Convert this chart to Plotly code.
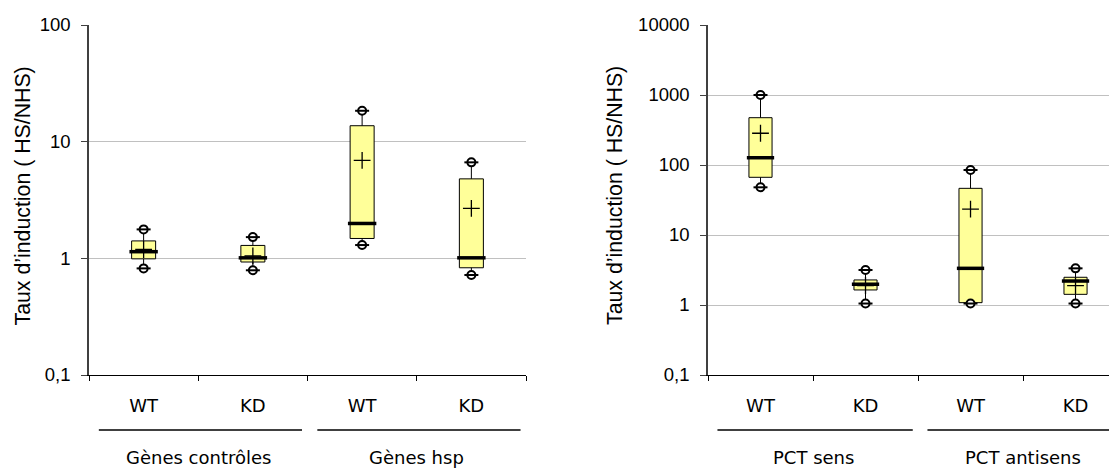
import plotly.graph_objects as go

# page body adds an 8px margin; lay out in reference pixel space minus that offset
OFF = 8
FW, FH = 1117 - OFF, 468 - OFF


def px(x):
    return (x - OFF) / FW


def py(y):
    return 1 - (y - OFF) / FH


# ---------------- data ----------------
categories = ["WT", "KD", "WT", "KD"]
left_groups = ["Gènes contrôles", "Gènes hsp"]
right_groups = ["PCT sens", "PCT antisens"]

left_min = [0.82, 0.79, 1.30, 0.72]
left_q1 = [0.99, 0.93, 1.48, 0.83]
left_median = [1.14, 1.01, 1.99, 1.01]
left_q3 = [1.41, 1.29, 13.7, 4.80]
left_max = [1.77, 1.52, 18.4, 6.65]
left_mean = [1.19, 1.05, 6.92, 2.68]

right_min = [48, 1.05, 1.05, 1.05]
right_q1 = [66.7, 1.64, 1.08, 1.42]
right_median = [127, 1.98, 3.34, 2.20]
right_q3 = [474, 2.28, 46.4, 2.49]
right_max = [1000, 3.16, 84.8, 3.34]
right_mean = [284, 1.90, 23.5, 1.89]

left_ticks = [0.1, 1, 10, 100]
left_ticktext = ["0,1", "1", "10", "100"]
right_ticks = [0.1, 1, 10, 100, 1000, 10000]
right_ticktext = ["0,1", "1", "10", "100", "1000", "10000"]

y_title = "Taux d’induction ( HS/NHS)"

# ---------------- styling ----------------
FILL = "#FFFF99"
GRID = "#C0C0C0"
AX_FONT = dict(family="Liberation Sans, Arial, sans-serif", size=18.5, color="black")
CAT_FONT = dict(family="DejaVu Sans, Verdana, sans-serif", size=18, color="black")
BOX_W = 0.22
MED_HALF = 0.13

fig = go.Figure()


def add_panel(xa, ya, mins, q1, med, q3, maxs, means):
    pos = list(range(len(categories)))
    fig.add_trace(go.Box(
        x=pos, q1=q1, median=med, q3=q3, lowerfence=mins, upperfence=maxs,
        width=BOX_W, fillcolor=FILL, line=dict(color="black", width=1),
        whiskerwidth=0, boxpoints=False, showlegend=False, hoverinfo="skip",
        xaxis=xa, yaxis=ya))
    mx, my = [], []
    for p, m in zip(pos, med):
        mx += [p - MED_HALF, p + MED_HALF, None]
        my += [m, m, None]
    fig.add_trace(go.Scatter(x=mx, y=my, mode="lines",
                             line=dict(color="black", width=3.5),
                             showlegend=False, hoverinfo="skip",
                             xaxis=xa, yaxis=ya))
    fig.add_trace(go.Scatter(x=pos, y=means, mode="markers",
                             marker=dict(symbol="cross-thin-open", size=12,
                                         color="black", line=dict(width=1.3)),
                             showlegend=False, hoverinfo="skip",
                             xaxis=xa, yaxis=ya))
    ex = pos + pos
    ey = list(mins) + list(maxs)
    fig.add_trace(go.Scatter(x=ex, y=ey, mode="markers",
                             marker=dict(symbol="circle", size=8, color="white",
                                         line=dict(width=2, color="black")),
                             showlegend=False, hoverinfo="skip",
                             xaxis=xa, yaxis=ya))
    fig.add_trace(go.Scatter(x=ex, y=ey, mode="markers",
                             marker=dict(symbol="line-ew-open", size=10, color="black",
                                         line=dict(width=2, color="black")),
                             showlegend=False, hoverinfo="skip",
                             xaxis=xa, yaxis=ya))


add_panel("x", "y", left_min, left_q1, left_median, left_q3, left_max, left_mean)
add_panel("x2", "y2", right_min, right_q1, right_median, right_q3, right_max, right_mean)

ydom = [py(375), py(25)]


def xaxis_cfg(domain, rng, anchor):
    return dict(
        domain=domain, range=rng, anchor=anchor, automargin=False,
        tickvals=list(range(len(categories))), ticktext=categories, ticks="",
        tickfont=CAT_FONT, ticklabelstandoff=14,
        showline=True, linecolor="black", linewidth=1,
        showgrid=False, zeroline=False,
        minor=dict(tickvals=[i - 0.5 for i in range(len(categories) + 1)],
                   ticks="outside", ticklen=5, tickcolor="black", tickwidth=1,
                   showgrid=False),
    )


def yaxis_cfg(rng, tv, tt, anchor):
    return dict(
        domain=ydom, type="log", range=rng, anchor=anchor, automargin=False,
        tickvals=tv, ticktext=tt, ticks="outside", ticklen=6,
        tickcolor="#404040", tickwidth=1, tickfont=AX_FONT, ticklabelstandoff=7,
        showline=True, linecolor="#404040", linewidth=1.5,
        showgrid=True, gridcolor=GRID, gridwidth=1, zeroline=False,
    )


left_dom = [px(89), px(526)]
right_dom = [px(708), 1.0]

fig.update_layout(
    width=FW, height=FH,
    margin=dict(l=0, r=0, t=0, b=0, autoexpand=False),
    paper_bgcolor="white", plot_bgcolor="white",
    xaxis=xaxis_cfg(left_dom, [-0.5, 3.5], "y"),
    yaxis=yaxis_cfg([-1, 2], left_ticks, left_ticktext, "x"),
    xaxis2=xaxis_cfg(right_dom, [-0.5, 3.395], "y2"),
    yaxis2=yaxis_cfg([-1, 4], right_ticks, right_ticktext, "x2"),
    showlegend=False,
)

# y titles
for xpx in (22.5, 615):
    fig.add_annotation(text=y_title, x=px(xpx), y=py(196), xref="paper", yref="paper",
                       textangle=-90, showarrow=False, xanchor="center", yanchor="middle",
                       font=dict(family="Liberation Sans, Arial, sans-serif", size=21.3,
                                 color="black"))

# group lines and labels
line_y = py(430)
label_y = py(457)
for xa, groups in (("x", left_groups), ("x2", right_groups)):
    for g, name in enumerate(groups):
        lo = 2 * g - 0.5
        hi = 2 * g + 1.5
        fig.add_shape(type="line", xref=xa, yref="paper",
                      x0=lo + 0.09, x1=hi - 0.05, y0=line_y, y1=line_y,
                      line=dict(color="black", width=1.3))
        fig.add_annotation(text=name, x=(lo + hi) / 2, y=label_y, xref=xa, yref="paper",
                           showarrow=False, xanchor="center", yanchor="middle",
                           font=CAT_FONT)

fig.write_html("out.html")
